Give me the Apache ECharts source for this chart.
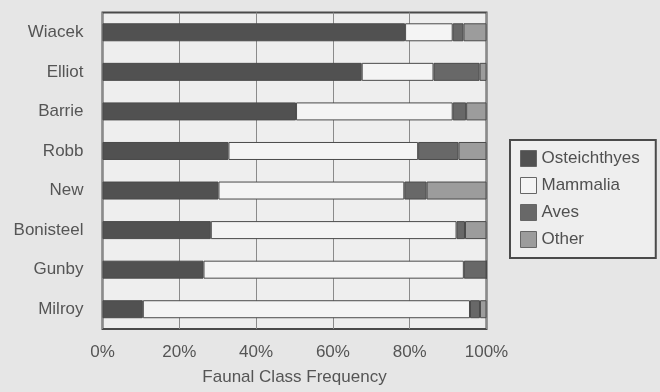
<!DOCTYPE html>
<html>
<head>
<meta charset="utf-8">
<script src="https://cdn.jsdelivr.net/npm/echarts@6/dist/echarts.min.js"></script>
<style>
  html, body { margin: 0; padding: 0; background: #e6e6e6; }
  #chart { width: 660px; height: 392px; }
</style>
</head>
<body>
<div id="chart"></div>
<script>
// Sites, top to bottom
const sites = ['Wiacek', 'Elliot', 'Barrie', 'Robb', 'New', 'Bonisteel', 'Gunby', 'Milroy'];

// Faunal class frequency (%) per site
const osteichthyes = [78.8, 67.5, 50.4, 32.8, 30.2, 28.2, 26.3, 10.5];
const mammalia     = [12.4, 18.7, 40.8, 49.4, 48.4, 64.0, 67.8, 85.2];
const aves         = [ 2.8, 12.0,  3.5, 10.5,  5.8,  2.2,  5.9,  2.6];
const other        = [ 6.0,  1.8,  5.3,  7.3, 15.6,  5.6,  0.0,  1.7];

const xTicks = [0, 20, 40, 60, 80, 100];

const classes = [
  { name: 'Osteichthyes', data: osteichthyes, color: '#515151' },
  { name: 'Mammalia',     data: mammalia,     color: '#f4f4f4' },
  { name: 'Aves',         data: aves,         color: '#686868' },
  { name: 'Other',        data: other,        color: '#9c9c9c' }
];

const font = 'Liberation Sans, Arial, sans-serif';
const chart = echarts.init(document.getElementById('chart'));

chart.setOption({
  backgroundColor: '#e6e6e6',
  animation: false,
  textStyle: { fontFamily: font },
  grid: {
    left: 102.5, top: 12.5, width: 384, height: 316.5,
    show: true, backgroundColor: '#eeeeee',
    borderColor: '#4a4a4a', borderWidth: 2
  },
  legend: {
    orient: 'vertical',
    left: 510, top: 140,
    padding: [10, 16, 10, 10],
    itemGap: 10,
    itemWidth: 16, itemHeight: 16,
    borderColor: '#4a4a4a', borderWidth: 2,
    backgroundColor: '#eeeeee',
    textStyle: { color: '#505050', fontSize: 17, lineHeight: 16, fontFamily: font },
    icon: 'rect',
    data: classes.map(c => ({
      name: c.name,
      itemStyle: { color: c.color, borderColor: '#666', borderWidth: 1 }
    }))
  },
  xAxis: {
    type: 'value',
    min: xTicks[0], max: xTicks[xTicks.length - 1], interval: 20,
    axisLine: { show: false },
    axisTick: { show: false },
    splitLine: { show: true, lineStyle: { color: '#8a8a8a', width: 1 } },
    axisLabel: {
      formatter: v => v + '%',
      color: '#555', fontSize: 17, margin: 15
    },
    name: 'Faunal Class Frequency',
    nameLocation: 'middle',
    nameGap: 40,
    nameTextStyle: { color: '#555', fontSize: 17 }
  },
  yAxis: {
    type: 'category',
    inverse: true,
    data: sites,
    axisLine: { show: false },
    axisTick: { show: false },
    splitLine: { show: false },
    axisLabel: { color: '#555', fontSize: 17, margin: 19 }
  },
  series: classes.map(c => ({
    name: c.name,
    type: 'bar',
    stack: 'freq',
    barWidth: 18,
    data: c.data,
    itemStyle: { color: c.color, borderColor: '#4a4a4a', borderWidth: 1 }
  }))
});
</script>
</body>
</html>
